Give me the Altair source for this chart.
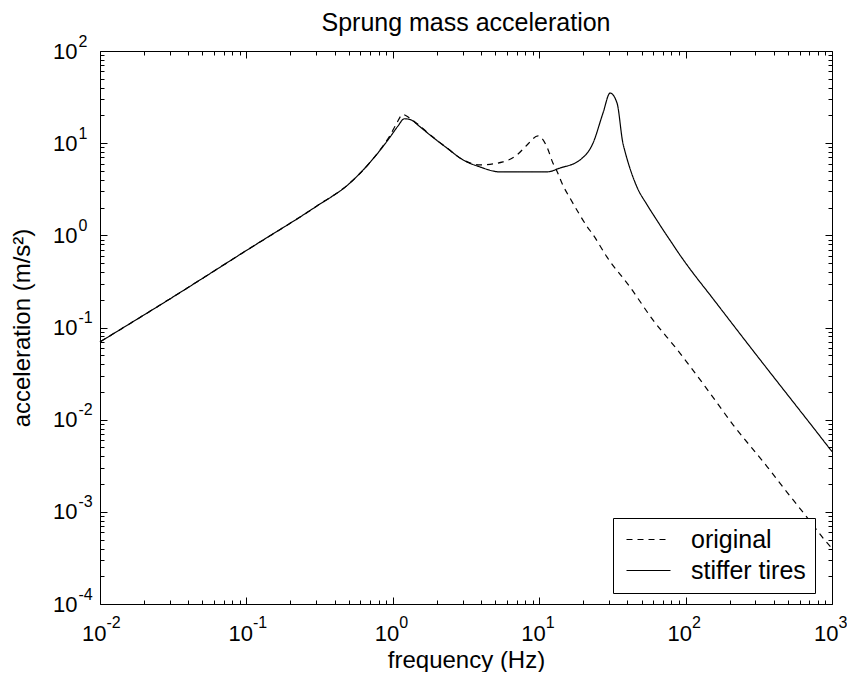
import altair as alt
import pandas as pd

FONT = "Liberation Sans"

# ---- data (frequency in Hz, acceleration in m/s^2) ----
freq_original = [0.01, 0.03, 0.1, 0.3, 0.5, 0.7, 0.82, 0.96, 1.06, 1.17, 1.3, 1.5,
                 1.79, 2.34, 3.02, 3.94, 5.66, 7.05, 8.26, 9.82, 11.3, 12.4, 13.2,
                 14.5, 16.2, 19.0, 21.2, 23.3, 29.0, 41.7, 59.8, 87.3, 140, 211, 360,
                 463, 675, 869, 1000]
acc_original = [0.0698, 0.204, 0.685, 2.06, 3.6, 6.2, 8.5, 12.2, 16.3, 20.5, 18.8, 15.8,
                12.4, 8.9, 6.6, 5.81, 6.26, 7.45, 9.55, 12.0, 9.10, 6.10, 5.0,
                3.5, 2.55, 1.65, 1.25, 1.02, 0.583, 0.275, 0.121, 0.058, 0.0215, 0.0088,
                0.0031, 0.00185, 0.00087, 0.00052, 0.00040]

freq_stiff = [0.01, 0.03, 0.1, 0.3, 0.5, 0.7, 0.82, 0.96, 1.08, 1.2, 1.32, 1.5, 1.79,
              2.34, 3.02, 3.94, 5.4, 11.3, 13.9, 19.0, 23.3, 27.3, 30.5, 34.0, 37.3,
              38.5, 46.5, 54.5, 63.8, 70.1, 80, 91.6, 102, 154, 275, 463, 741, 1000]
acc_stiff = [0.0698, 0.204, 0.685, 2.06, 3.6, 6.2, 8.4, 11.7, 15.2, 18.4, 18.0, 15.5,
             12.3, 8.87, 6.58, 5.52, 4.88, 4.88, 5.38, 6.58, 10.0, 21.3, 35.0, 27.3,
             10.0, 8.2, 3.35, 2.15, 1.45, 1.15, 0.84, 0.61, 0.48, 0.205, 0.062, 0.0215,
             0.0083, 0.0045]

series_names = ["original", "stiffer tires"]

x_major = [0.01, 0.1, 1, 10, 100, 1000]
y_major = [1e-4, 1e-3, 1e-2, 1e-1, 1, 10, 100]
x_minor = [m * 10.0 ** e for e in range(-2, 3) for m in range(2, 10)]
y_minor = [m * 10.0 ** e for e in range(-4, 2) for m in range(2, 10)]

df = pd.concat([
    pd.DataFrame({"frequency": freq_original, "acceleration": acc_original,
                  "series": series_names[0]}),
    pd.DataFrame({"frequency": freq_stiff, "acceleration": acc_stiff,
                  "series": series_names[1]}),
], ignore_index=True)

W, H = 732, 553
x_scale = alt.Scale(type="log", domain=[0.01, 1000], nice=False)
y_scale = alt.Scale(type="log", domain=[1e-4, 100], nice=False)

EXP = "'' + round(log(datum.value) / LN10)"


def label_axis(orient, values, expr, size, **kw):
    return alt.Axis(orient=orient, values=values, labelExpr=expr, ticks=False, tickSize=0,
                    domain=False, grid=False, labelFont=FONT, labelFontSize=size,
                    labelColor="black", labelFlush=False, labelOverlap=False, **kw)


def tick_axis(orient, values, size):
    return alt.Axis(orient=orient, values=values, labels=False, ticks=True, tickSize=size,
                    offset=-size, domain=False, grid=False, tickColor="black",
                    tickWidth=1, title=None)


lines = alt.Chart(df).mark_line(color="black", strokeWidth=1.2,
                                interpolate="monotone").encode(
    x=alt.X("frequency:Q", scale=x_scale,
            axis=label_axis("bottom", x_major, "'10'", 22, labelAlign="right", labelOffset=6,
                            labelBaseline="middle", labelPadding=29,
                            title="frequency (Hz)", titleFont=FONT, titleFontSize=24,
                            titleFontWeight="normal", titleColor="black",
                            titleX=W / 2, titleY=63, titleAlign="center",
                            titleBaseline="alphabetic")),
    y=alt.Y("acceleration:Q", scale=y_scale,
            axis=label_axis("left", y_major, "'10'", 22, labelAlign="right",
                            labelBaseline="middle", labelPadding=23,
                            title="acceleration (m/s²)", titleFont=FONT, titleFontSize=24,
                            titleFontWeight="normal", titleColor="black",
                            titleX=-78, titleY=H / 2, titleAngle=270, titleAlign="center",
                            titleBaseline="middle")),
    strokeDash=alt.StrokeDash(
        "series:N",
        scale=alt.Scale(domain=series_names, range=[[6, 5], [1, 0]]),
        legend=alt.Legend(title=None, orient="none", legendX=513, legendY=467,
                          symbolType="M-2,0H2", symbolSize=484, symbolOffset=14,
                          symbolStrokeWidth=1.2, symbolStrokeColor="black",
                          labelFont=FONT, labelFontSize=25, labelColor="black",
                          labelOffset=30, rowPadding=5, padding=9,
                          fillColor="white", strokeColor="black", cornerRadius=0),
    ),
)


def axis_layer(xa, ya):
    return alt.Chart(df).mark_point(opacity=0, size=1).encode(
        x=alt.X("frequency:Q", scale=x_scale, axis=xa),
        y=alt.Y("acceleration:Q", scale=y_scale, axis=ya),
    )


exp_layer = axis_layer(
    label_axis("bottom", x_major, EXP, 16, labelAlign="left", labelOffset=6,
               labelBaseline="middle", labelPadding=18, title=None),
    label_axis("left", y_major, EXP, 16, labelAlign="left", labelOffset=-10,
               labelBaseline="middle", labelPadding=22, title=None),
)
major_in = axis_layer(tick_axis("bottom", x_major, 7), tick_axis("left", y_major, 7))
minor_in = axis_layer(tick_axis("bottom", x_minor, 4), tick_axis("left", y_minor, 4))
major_out = axis_layer(tick_axis("top", x_major, 7), tick_axis("right", y_major, 7))
minor_out = axis_layer(tick_axis("top", x_minor, 4), tick_axis("right", y_minor, 4))

chart = alt.layer(
    major_in, minor_in, major_out, minor_out, exp_layer, lines
).resolve_axis(
    x="independent", y="independent"
).properties(
    width=W, height=H,
    title=alt.TitleParams("Sprung mass acceleration", font=FONT, fontSize=25,
                          fontWeight="normal", color="black", anchor="middle", offset=-3),
    autosize=alt.AutoSizeParams(type="none"),
    padding={"left": 92, "top": 43, "right": 15, "bottom": 68},
).configure_view(stroke="black", strokeWidth=1)

chart.save("out.html", embed_options={"renderer": "svg", "actions": False})
